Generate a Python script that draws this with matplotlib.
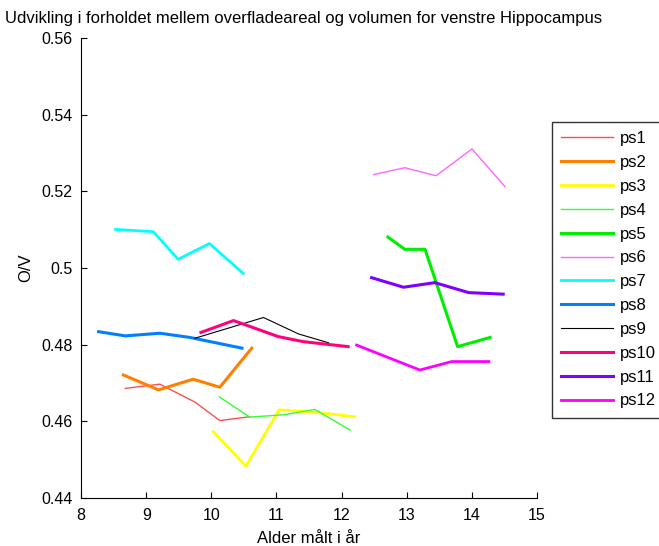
import matplotlib
matplotlib.use('Agg')
import matplotlib.pyplot as plt

plt.rcParams['font.family'] = ['Liberation Sans', 'DejaVu Sans']

# Alder (aar) og O/V for hver forsoegsperson
ps1_x = [8.68, 9.21, 9.75, 10.13, 10.59]
ps1_y = [0.4686, 0.4697, 0.4650, 0.4602, 0.4612]
ps2_x = [8.65, 9.19, 9.72, 10.13, 10.62]
ps2_y = [0.4721, 0.4682, 0.4710, 0.4689, 0.4791]
ps3_x = [10.03, 10.53, 11.04, 11.58, 12.20]
ps3_y = [0.4573, 0.4483, 0.4630, 0.4624, 0.4612]
ps4_x = [10.12, 10.59, 11.10, 11.59, 12.13]
ps4_y = [0.4664, 0.4611, 0.4617, 0.4631, 0.4577]
ps5_x = [12.71, 12.97, 13.28, 13.78, 14.28]
ps5_y = [0.5081, 0.5049, 0.5049, 0.4795, 0.4819]
ps6_x = [12.49, 12.97, 13.45, 14.00, 14.51]
ps6_y = [0.5244, 0.5262, 0.5241, 0.5311, 0.5212]
ps7_x = [8.53, 9.11, 9.49, 9.97, 10.49]
ps7_y = [0.5101, 0.5095, 0.5023, 0.5064, 0.4986]
ps8_x = [8.27, 8.68, 9.21, 9.67, 10.47]
ps8_y = [0.4834, 0.4823, 0.4830, 0.4819, 0.4791]
ps9_x = [9.75, 10.80, 11.34, 11.80]
ps9_y = [0.4817, 0.4871, 0.4828, 0.4805]
ps10_x = [9.84, 10.34, 11.03, 11.41, 12.10]
ps10_y = [0.4832, 0.4863, 0.4821, 0.4808, 0.4795]
ps11_x = [12.46, 12.95, 13.43, 13.95, 14.48]
ps11_y = [0.4975, 0.4950, 0.4962, 0.4936, 0.4932]
ps12_x = [12.23, 13.20, 13.69, 14.26]
ps12_y = [0.4799, 0.4734, 0.4756, 0.4756]

fig = plt.figure(figsize=(6.59, 5.46), dpi=100)
ax = fig.add_axes([0.123, 0.088, 0.692, 0.842])

ax.plot(ps1_x, ps1_y, color='#ff4d4d', lw=1.0, label='ps1')
ax.plot(ps2_x, ps2_y, color='#ff8000', lw=2.2, label='ps2')
ax.plot(ps3_x, ps3_y, color='#ffff00', lw=2.0, label='ps3')
ax.plot(ps4_x, ps4_y, color='#33ff33', lw=1.0, label='ps4')
ax.plot(ps5_x, ps5_y, color='#00ee00', lw=2.2, label='ps5')
ax.plot(ps6_x, ps6_y, color='#ff66ff', lw=1.0, label='ps6')
ax.plot(ps7_x, ps7_y, color='#00ffff', lw=2.0, label='ps7')
ax.plot(ps8_x, ps8_y, color='#0080ff', lw=2.2, label='ps8')
ax.plot(ps9_x, ps9_y, color='black', lw=0.8, label='ps9')
ax.plot(ps10_x, ps10_y, color='#ff0080', lw=2.2, label='ps10')
ax.plot(ps11_x, ps11_y, color='#8000ff', lw=2.2, label='ps11')
ax.plot(ps12_x, ps12_y, color='#ff00ff', lw=2.0, label='ps12')

ax.set_xlim(8, 15)
ax.set_ylim(0.44, 0.56)
ax.set_xticks(range(8, 16))
ax.set_yticks([0.44, 0.46, 0.48, 0.5, 0.52, 0.54, 0.56])
ax.set_yticklabels(['0.44', '0.46', '0.48', '0.5', '0.52', '0.54', '0.56'])
ax.tick_params(direction='in', length=4, labelsize=11.5)
ax.tick_params(axis='x', pad=7)
ax.tick_params(axis='y', pad=6)
ax.spines['top'].set_visible(False)
ax.spines['right'].set_visible(False)

ax.set_xlabel('Alder målt i år', fontsize=12, labelpad=6)
ax.set_ylabel('O/V', fontsize=12, labelpad=6)
fig.text(0.008, 0.967, 'Udvikling i forholdet mellem overfladeareal og volumen for venstre Hippocampus',
         fontsize=12, ha='left', va='center')

leg = ax.legend(loc='upper left', bbox_to_anchor=(552 / 659, 1 - 122 / 546),
                bbox_transform=fig.transFigure, fontsize=12, frameon=True,
                fancybox=False, borderpad=0.55, labelspacing=0.53, handlelength=3.1,
                handletextpad=0.4, borderaxespad=0)
leg.get_frame().set_edgecolor('black')
leg.get_frame().set_linewidth(1.0)

fig.savefig('out.png', dpi=100)
